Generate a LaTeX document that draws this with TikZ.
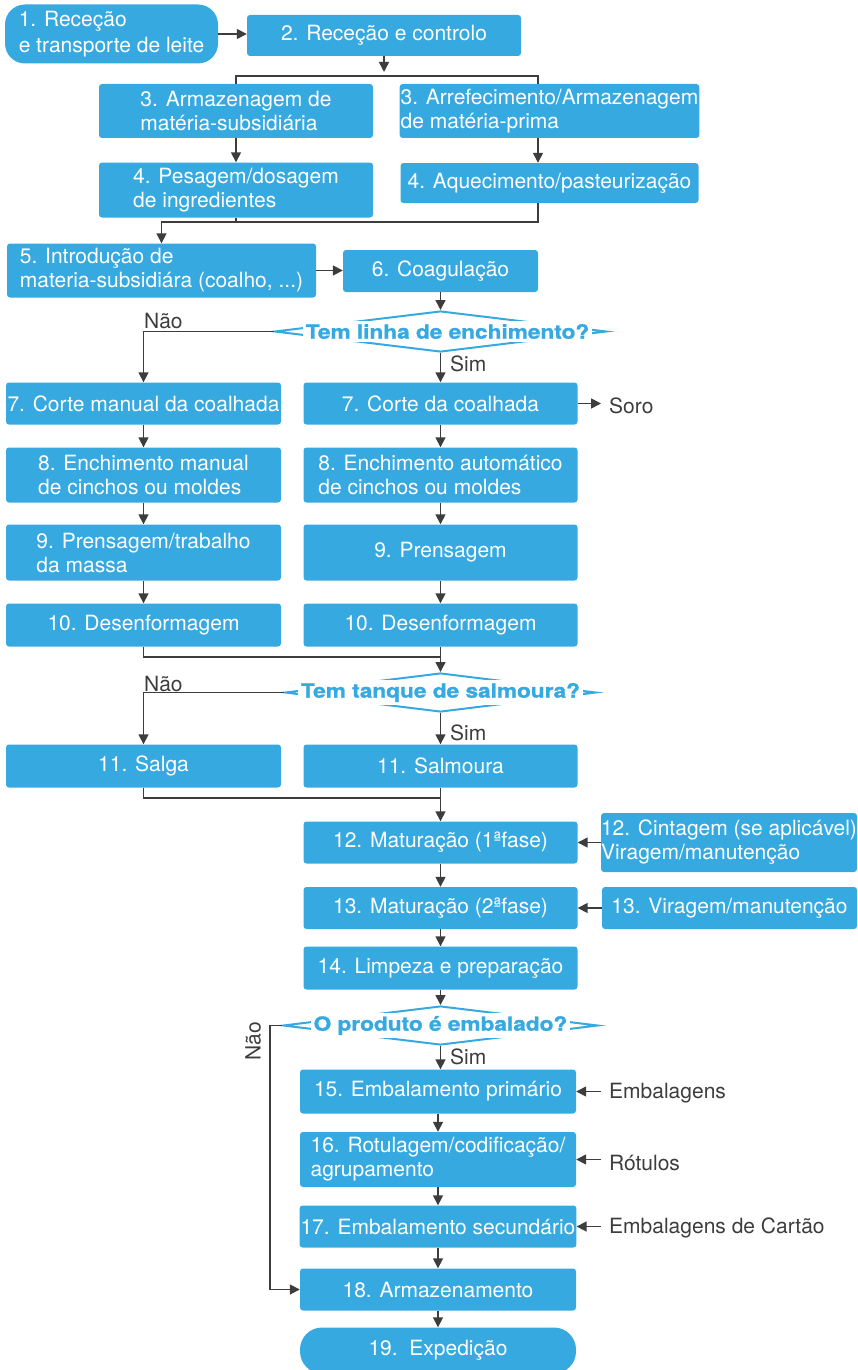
\documentclass[tikz,border=0pt]{standalone}
\usepackage{fontspec}
\setmainfont{TeX Gyre Heros}
\newfontfamily\askfont[FakeStretch=1.16, FakeBold=1.2]{TeX Gyre Heros}
\usepackage{tikz}
\usetikzlibrary{arrows.meta, shapes.geometric, calc}
\usepackage{xcolor}
\definecolor{boxblue}{RGB}{54,169,225}
\definecolor{linkgray}{RGB}{61,61,61}

\begin{document}
\begin{tikzpicture}[x=1pt, y=-1pt,
	box/.style={fill=boxblue, text=white, rounded corners=3pt, inner xsep=1pt, inner ysep=2pt, align=left, font=\fontsize{21}{24}\selectfont},
	ask/.style={diamond, draw=boxblue, line width=2pt, inner sep=0pt},
	asktext/.style={fill=white, text=boxblue, inner sep=3pt, font=\askfont\bfseries\fontsize{19.5}{22}\selectfont},
	side/.style={text=linkgray, inner xsep=8pt, inner ysep=0pt, anchor=west, font=\fontsize{21}{24}\selectfont},
	tag/.style={text=linkgray, inner sep=0pt, anchor=west, font=\fontsize{21}{24}\selectfont},
	conn/.style={draw=linkgray, line width=1.6pt},
	arr/.style={conn, -{Triangle[length=10pt, width=10pt]}}]
				\useasboundingbox (0,0) rectangle (858,1370);
				\node[box, rounded corners=20pt, minimum width=213, minimum height=59, font=\fontsize{21}{25.5}\selectfont] (b1) at (111.5,34) {1. Receção\\e transporte de leite};
				\node[box, minimum width=274, minimum height=41] (b2) at (384,35.5) {2. Receção e controlo};
				\node[box, minimum width=274, minimum height=54] (b3l) at (236,111) {3. Armazenagem de\\matéria-subsidiária};
				\node[box, minimum width=298, minimum height=54] (b3r) at (549.5,111) {3. Arrefecimento/Armazenagem\\de matéria-prima};
				\node[box, minimum width=274, minimum height=55] (b4l) at (236,190) {4. Pesagem/dosagem\\de ingredientes};
				\node[box, minimum width=298, minimum height=40] (b4r) at (549.5,183) {4. Aquecimento/pasteurização};
				\node[box, minimum width=309, minimum height=54] (b5) at (161.5,270.5) {5. Introdução de\\materia-subsidiára (coalho, ...)};
				\node[box, minimum width=195, minimum height=42] (b6) at (440.5,271) {6. Coagulação};
				\node[ask, minimum width=332, minimum height=41] (q1) at (440.5,331.5) {};
				\node[asktext, xshift=7pt] (q1t) at (q1) {Tem linha de enchimento?};
				\node[box, minimum width=275, minimum height=42] (b7l) at (143.5,403.5) {7. Corte manual da coalhada};
				\node[box, minimum width=274, minimum height=42] (b7r) at (440.5,403.5) {7. Corte da coalhada};
				\node[side] (soro) at (601,406) {Soro};
				\node[box, minimum width=275, minimum height=55] (b8l) at (143.5,475) {8. Enchimento manual\\de cinchos ou moldes};
				\node[box, minimum width=274, minimum height=55] (b8r) at (440.5,475) {8. Enchimento automático\\de cinchos ou moldes};
				\node[box, minimum width=275, minimum height=56] (b9l) at (143.5,552.5) {9. Prensagem/trabalho\\da massa};
				\node[box, minimum width=274, minimum height=56] (b9r) at (440.5,552.5) {9. Prensagem};
				\node[box, minimum width=275, minimum height=43] (b10l) at (143.5,625) {10. Desenformagem};
				\node[box, minimum width=274, minimum height=43] (b10r) at (440.5,625) {10. Desenformagem};
				\node[ask, minimum width=311, minimum height=39] (q2) at (440.5,692.5) {};
				\node[asktext] (q2t) at (q2) {Tem tanque de salmoura?};
				\node[box, minimum width=275, minimum height=43] (b11l) at (143.5,766) {11. Salga};
				\node[box, minimum width=274, minimum height=43] (b11r) at (440.5,766) {11. Salmoura};
				\node[box, minimum width=274, minimum height=42] (b12) at (440.5,842.5) {12. Maturação (1ªfase)};
				\node[box, minimum width=254, minimum height=59, inner xsep=0pt] (b12r) at (729,842.5) {12. Cintagem (se aplicável)\\Viragem/manutenção};
				\node[box, minimum width=274, minimum height=42] (b13) at (440.5,908) {13. Maturação (2ªfase)};
				\node[box, minimum width=255, minimum height=42] (b13r) at (729.5,908) {13. Viragem/manutenção};
				\node[box, minimum width=274, minimum height=43] (b14) at (440.5,968) {14. Limpeza e preparação};
				\node[ask, minimum width=315, minimum height=39] (q3) at (440.5,1025.5) {};
				\node[asktext] (q3t) at (q3) {O produto é embalado?};
				\node[box, minimum width=276, minimum height=44] (b15) at (438,1091.5) {15. Embalamento primário};
				\node[box, minimum width=276, minimum height=55] (b16) at (438,1159.5) {16. Rotulagem/codificação/\\agrupamento};
				\node[box, minimum width=276, minimum height=42] (b17) at (438,1226.5) {17. Embalamento secundário};
				\node[box, minimum width=276, minimum height=42] (b18) at (438,1289.5) {18. Armazenamento};
				\node[box, rounded corners=22pt, minimum width=276, minimum height=46] (b19) at (438,1350.5) {19.\ \ Expedição};
				\node[side] (emb) at (601,1093) {Embalagens};
				\node[side] (rot) at (601,1163) {Rótulos};
				\node[side] (cart) at (601,1228) {Embalagens de Cartão};
				\node[tag] (nao1) at (144,321) {Não};
				\node[tag] (sim1) at (450,364) {Sim};
				\node[tag] (nao2) at (144,684) {Não};
				\node[tag] (sim2) at (450,733) {Sim};
				\node[tag] (sim3) at (450,1057) {Sim};
				\node[tag, anchor=center, rotate=90] (nao3) at (253,1041.5) {Não};
				\coordinate (s23) at (384,72);
				\coordinate (j3) at (236,76);
				\coordinate (j3r) at (538,76);
				\coordinate (j45) at (161.5,222);
				\coordinate (j10) at (440.5,657);
				\coordinate (j11) at (440.5,798);
				\coordinate (q3turn) at (270,1025.5);
				\draw[arr] (b1.east) -- (b1.east -| b2.west);
				\draw[arr] (b2.south) -- (s23);
				\draw[conn] (b3l.north) -- (j3) -- (j3r) -- (j3r |- b3r.north);
				\draw[arr] (b3l.south) -- (b4l.north);
				\draw[arr] (j3r |- b3r.south) -- (j3r |- b4r.north);
				\draw[conn] (b4l.south) -- (b4l.south |- j45);
				\draw[arr] (j3r |- b4r.south) |- (j45) -- (b5.north);
				\draw[arr] (b5.east) -- (b5.east -| b6.west);
				\draw[arr] (b6.south) -- (q1.north);
				\draw[arr] (q1.west) -| (b7l.north);
				\draw[arr] (q1.south) -- (b7r.north);
				\draw[arr] (b7r.east) -- (b7r.east -| soro.west);
				\draw[arr] (b7l.south) -- (b8l.north);
				\draw[arr] (b7r.south) -- (b8r.north);
				\draw[arr] (b8l.south) -- (b9l.north);
				\draw[arr] (b8r.south) -- (b9r.north);
				\draw[arr] (b9l.south) -- (b10l.north);
				\draw[arr] (b9r.south) -- (b10r.north);
				\draw[conn] (b10l.south) |- (j10);
				\draw[arr] (b10r.south) -- (q2.north);
				\draw[arr] (q2.west) -| (b11l.north);
				\draw[arr] (q2.south) -- (b11r.north);
				\draw[conn] (b11l.south) |- (j11);
				\draw[arr] (b11r.south) -- (b12.north);
				\draw[arr] (b12r.west) -- (b12r.west -| b12.east);
				\draw[arr] (b12.south) -- (b13.north);
				\draw[arr] (b13r.west) -- (b13r.west -| b13.east);
				\draw[arr] (b13.south) -- (b14.north);
				\draw[arr] (b14.south) -- (q3.north);
				\draw[arr] (q3.south) -- (q3.south |- b15.north);
				\draw[arr] (q3.west) -- (q3turn) |- (b18.west);
				\draw[arr] (b15.south) -- (b16.north);
				\draw[arr] (b16.south) -- (b17.north);
				\draw[arr] (b17.south) -- (b18.north);
				\draw[arr] (b18.south) -- (b19.north);
				\draw[arr] (emb.west |- b15.east) -- (b15.east);
				\draw[arr] (rot.west |- b16.east) -- (b16.east);
				\draw[arr] (cart.west |- b17.east) -- (b17.east);
			\end{tikzpicture}
\end{document}
